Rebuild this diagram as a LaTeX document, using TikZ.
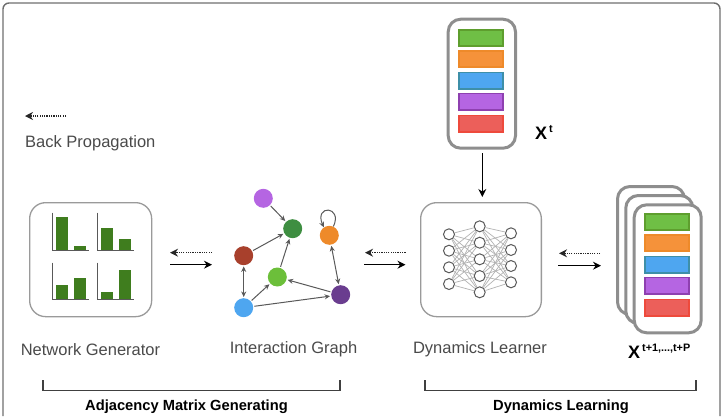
\documentclass[tikz,border=0pt]{standalone}
\usepackage{fontspec}
\setmainfont{Liberation Sans}
\usetikzlibrary{arrows.meta}
\definecolor{framegray}{HTML}{6E6E6E}
\definecolor{cardgray}{HTML}{8E8E8E}
\definecolor{boxgray}{HTML}{9A9A9A}
\definecolor{labelgray}{HTML}{4A4A4A}
\definecolor{barGreen}{HTML}{3F7D1E}
\definecolor{cGreenF}{HTML}{6FBF45}\definecolor{cGreenD}{HTML}{5E9E2E}
\definecolor{cOrangeF}{HTML}{F5923A}\definecolor{cOrangeD}{HTML}{EE8A2A}
\definecolor{cBlueF}{HTML}{4EA6F0}\definecolor{cBlueD}{HTML}{3E8FA8}
\definecolor{cPurpleF}{HTML}{B565E2}\definecolor{cPurpleD}{HTML}{8E40B0}
\definecolor{cRedF}{HTML}{EC5F5A}\definecolor{cRedD}{HTML}{EE4A3C}
\definecolor{nodeDarkGreen}{HTML}{3E8E41}
\definecolor{nodeRed}{HTML}{A8402C}
\definecolor{nodeGreen}{HTML}{6CBF3A}
\definecolor{nodeViolet}{HTML}{6A3D8F}
\tikzset{
  x=1pt,y=-1pt,
  frame/.style={draw=framegray,line width=1.4pt},
  panel/.style={draw=boxgray,line width=1.3pt,rounded corners=16pt,fill=white},
  card/.style={draw=cardgray,line width=3pt,rounded corners=12.5pt,fill=white},
  axisline/.style={draw=black!65,line width=0.9pt},
  greenbar/.style={fill=barGreen},
  forward/.style={draw=black,line width=1.2pt,-{Stealth[length=8pt,width=8pt]}},
  backward/.style={draw=black!85,line width=1.3pt,dash pattern=on 1.2pt off 1.1pt,-{Stealth[length=8pt,width=8pt]}},
  gnode/.style={circle,minimum size=19pt,inner sep=0pt,fill=#1},
  gedge/.style={draw=black!65,line width=1pt,-{Stealth[length=5.5pt,width=5pt]},shorten >=1pt,shorten <=1pt},
  gboth/.style={draw=black!65,line width=1pt,{Stealth[length=5.5pt,width=5pt]}-{Stealth[length=5.5pt,width=5pt]},shorten >=1pt,shorten <=1pt},
  nnode/.style={circle,minimum size=11pt,inner sep=0pt,draw=black!65,line width=1pt,fill=white},
  nnedge/.style={draw=black!30,line width=0.7pt},
  plain/.style={font=\fontsize{16.5}{18}\selectfont,text=labelgray,inner sep=0pt},
  strong/.style={font=\fontsize{14.7}{17}\selectfont\bfseries,text=black,inner sep=0pt},
  bigX/.style={font=\fontsize{18}{20}\selectfont\bfseries,text=black,inner sep=0pt},
  supX/.style={font=\fontsize{10.8}{12}\selectfont\bfseries,text=black,inner sep=0pt},
  brace/.style={draw=black!75,line width=1.1pt},
}
\newcommand{\colorstack}[2]{%
  \foreach \ya/\yb/\cf/\cd in {29.3/47/cGreenF/cGreenD,50/68/cOrangeF/cOrangeD,71.7/89.7/cBlueF/cBlueD,92.7/110.7/cPurpleF/cPurpleD,114.7/132.7/cRedF/cRedD}{
    \draw[fill=\cf,draw=\cd,line width=1.6pt] (#1+0.8,\ya+#2+0.8) rectangle (#1+44.9,\yb+#2-0.8);
  }}
\newcommand{\barpanel}[5]{% axis x, bottom y, top y, bar1 top, bar2 top
  \fill[greenbar] (#1+3,#2) rectangle (#1+15.3,#4);
  \fill[greenbar] (#1+21,#2) rectangle (#1+33.6,#5);
  \draw[axisline] (#1,#3) -- (#1,#2) -- (#1+36,#2);
}
\begin{document}
\begin{tikzpicture}
\useasboundingbox (0,0) rectangle (724,416);
% outer frame
\draw[frame] (3,416) -- (3,9) arc[start angle=180,end angle=270,radius=6] -- (714,3) arc[start angle=270,end angle=360,radius=6] -- (720,416);
% back propagation legend
\coordinate (legA) at (66,116); \coordinate (legB) at (25,116);
\draw[backward] (legA) -- (legB);
\node[plain,anchor=west] (lblBack) at (25,143) {Back Propagation};
% network generator
\node[panel,minimum width=122pt,minimum height=114pt,anchor=north west,inner sep=0pt] (gen) at (29,202) {};
\barpanel{52.7}{250}{212.7}{217.3}{246}
\barpanel{97.7}{250}{212.7}{227.7}{238.7}
\barpanel{52.7}{299.3}{262.7}{285}{278}
\barpanel{97.7}{299.3}{262.7}{292.3}{270.3}
\node[plain] (lblGen) at (90.5,349.5) {Network Generator};
% graph
\node[gnode=cPurpleF] (gp) at (263.3,198.3) {};
\node[gnode=nodeDarkGreen] (gd) at (292.7,228.7) {};
\node[gnode=nodeRed] (gr) at (243.7,255.7) {};
\node[gnode=nodeGreen] (gg) at (277.3,277) {};
\node[gnode=cBlueF] (gb) at (243.7,307.7) {};
\node[gnode=cOrangeD] (go) at (329.3,235.3) {};
\node[gnode=nodeViolet] (gv) at (340.7,294.7) {};
\draw[gedge] (gp) -- (gd);
\draw[gedge] (gr) -- (gd);
\draw[gedge] (gg) -- (gd);
\draw[gboth] (gr) -- (gb);
\draw[gedge] (gb) -- (gg);
\draw[gedge] (gb) -- (gv);
\draw[gedge] (gv) -- (gg);
\draw[gboth] (go) -- (gv);
\draw[gedge,shorten >=0pt,shorten <=0pt] (go.65) .. controls +(-65:23) and +(-113:25) .. (go.125);
\node[plain] (lblGraph) at (293.5,349.5) {Interaction Graph};
% dynamics learner
\node[panel,minimum width=120.7pt,minimum height=114pt,anchor=north west,inner sep=0pt] (dyn) at (420,202) {};
\foreach \n/\y in {1/234.3,2/250.7,3/267.3,4/284}{\node[nnode] (a\n) at (449,\y) {};}
\foreach \n/\y in {1/226.3,2/242.7,3/259.3,4/276,5/292.3}{\node[nnode] (b\n) at (479.7,\y) {};}
\foreach \n/\y in {1/233.3,2/250,3/266,4/282.3}{\node[nnode] (c\n) at (511,\y) {};}
\foreach \i in {1,2,3,4}{\foreach \j in {1,2,3,4,5}{
  \draw[nnedge] (a\i) -- (b\j);
  \draw[nnedge] (b\j) -- (c\i);
}}
\node[plain] (lblDyn) at (480,349.5) {Dynamics Learner};
% top card
\node[card,minimum width=67.3pt,minimum height=129pt,anchor=north west,inner sep=0pt] (xt) at (446.7,17.7) {};
\colorstack{458.3}{0}
\node[bigX,anchor=base west] (xtX) at (535,139) {X};
\node[supX,anchor=base west] (xtS) at (549,132) {t};
\coordinate (xtOut) at (482.3,153);
\coordinate (dynIn) at (482.3,197);
\draw[forward] (xtOut) -- (dynIn);
% stacked cards
\node[card,minimum width=67pt,minimum height=128pt,anchor=north west,inner sep=0pt] (s3) at (616,185) {};
\node[card,minimum width=67pt,minimum height=128pt,anchor=north west,inner sep=0pt] (s2) at (624.3,194) {};
\node[card,minimum width=67pt,minimum height=128pt,anchor=north west,inner sep=0pt] (s1) at (632.7,203.3) {};
\colorstack{644}{184}
\node[bigX,anchor=base west] (xpX) at (628,358) {X};
\node[supX,anchor=base west] (xpS) at (642,351) {t+1,...,t+P};
% arrows between panels
\coordinate (a1s) at (170,264.7); \coordinate (a1e) at (212,264.7);
\coordinate (b1s) at (212,252.7); \coordinate (b1e) at (170,252.7);
\coordinate (a2s) at (364,264.7); \coordinate (a2e) at (405.5,264.7);
\coordinate (b2s) at (405.5,252.7); \coordinate (b2e) at (365,252.7);
\coordinate (a3s) at (558,265.7); \coordinate (a3e) at (601,265.7);
\coordinate (b3s) at (600,253.3); \coordinate (b3e) at (559,253.3);
\draw[forward] (a1s) -- (a1e); \draw[backward] (b1s) -- (b1e);
\draw[forward] (a2s) -- (a2e); \draw[backward] (b2s) -- (b2e);
\draw[forward] (a3s) -- (a3e); \draw[backward] (b3s) -- (b3e);
% brackets
\draw[brace] (43,380) -- (43,390.7) -- (340,390.7) -- (340,380);
\draw[brace] (425,380) -- (425,390.7) -- (696,390.7) -- (696,380);
\node[strong] (lblAdj) at (186.5,407) {Adjacency Matrix Generating};
\node[strong] (lblLearn) at (561,407) {Dynamics Learning};
\end{tikzpicture}
\end{document}
